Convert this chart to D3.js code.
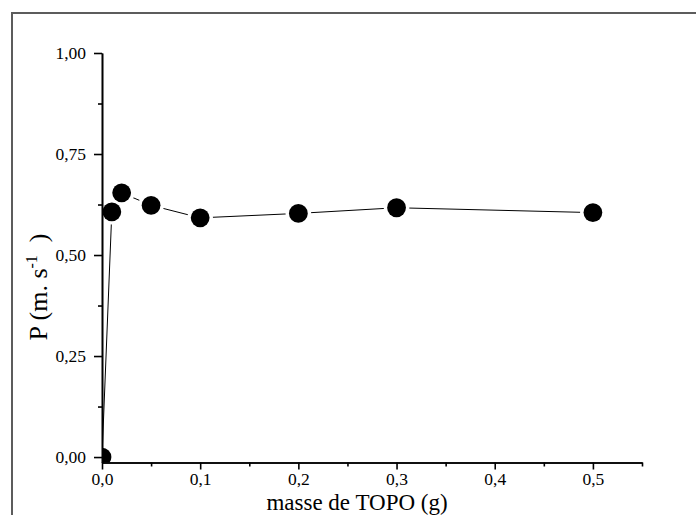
<!DOCTYPE html>
<html>
<head>
<meta charset="utf-8">
<script src="https://cdn.jsdelivr.net/npm/d3@7"></script>
<style>
  html, body { margin: 0; padding: 0; background: #fff; }
  svg { display: block; }
  text { font-family: "Liberation Serif", "Times New Roman", serif; fill: #000; }
</style>
</head>
<body>
<svg id="chart" width="696" height="515"></svg>
<script>
// ---- data ----
const masses = [0, 0.01, 0.02, 0.05, 0.1, 0.2, 0.3, 0.5];
const pValues = [0.0, 0.607, 0.654, 0.623, 0.592, 0.603, 0.617, 0.605];
const xTicks = [0, 0.1, 0.2, 0.3, 0.4, 0.5];
const xMinorTicks = [0.05, 0.15, 0.25, 0.35, 0.45, 0.55];
const yTicks = [0, 0.25, 0.5, 0.75, 1.0];
const yMinorTicks = [0.125, 0.375, 0.625, 0.875];
const xTitle = "masse de TOPO (g)";

// ---- layout ----
const svg = d3.select("#chart");
const pLeft = 102, pRight = 642, pTop = 53, pBottom = 462.5;

const x = d3.scaleLinear().domain([0, 0.55]).range([pLeft, pRight]);
const y = d3.scaleLinear().domain([-0.0135, 1.0]).range([pBottom, pTop]);

const fmtX = d => d3.format(".1f")(d).replace(".", ",");
const fmtY = d => d3.format(".2f")(d).replace(".", ",");

// outer frame
svg.append("rect")
  .attr("x", 12).attr("y", 13).attr("width", 720).attr("height", 540)
  .attr("fill", "none").attr("stroke", "#5c5c5c").attr("stroke-width", 2);

// clip
svg.append("defs").append("clipPath").attr("id", "plotclip")
  .append("rect").attr("x", pLeft).attr("y", pTop - 20)
  .attr("width", pRight - pLeft + 20).attr("height", pBottom - pTop + 20);

const plot = svg.append("g").attr("clip-path", "url(#plotclip)");
const pts = masses.map((m, i) => ({ m, p: pValues[i] }));

plot.append("path")
  .datum(pts)
  .attr("fill", "none").attr("stroke", "#000").attr("stroke-width", 1)
  .attr("d", d3.line().x(d => x(d.m)).y(d => y(d.p)));

// white halos to create gaps in the line around markers
plot.selectAll("circle.halo").data(pts).join("circle")
  .attr("class", "halo")
  .attr("cx", d => x(d.m)).attr("cy", d => y(d.p))
  .attr("r", 12.8).attr("fill", "#fff");

plot.selectAll("circle.pt").data(pts).join("circle")
  .attr("class", "pt")
  .attr("cx", d => x(d.m)).attr("cy", d => y(d.p))
  .attr("r", 9.4).attr("fill", "#000");

// ---- axes ----
function styleAxis(g) {
  g.attr("font-family", "'Liberation Serif', serif").attr("font-size", 17);
  g.selectAll(".domain").attr("stroke", "#000").attr("stroke-width", 1.6);
  g.selectAll(".tick line").attr("stroke", "#000").attr("stroke-width", 1.6);
  g.selectAll("text").style("font-family", "'Liberation Serif', serif")
    .style("font-size", "17.5px").attr("fill", "#000");
}

// x axis
const gx = svg.append("g").attr("transform", `translate(0,${pBottom})`)
  .call(d3.axisBottom(x).tickValues(xTicks).tickFormat(fmtX)
        .tickSize(7).tickSizeOuter(0).tickPadding(3));
styleAxis(gx);
const gxm = svg.append("g").attr("transform", `translate(0,${pBottom})`)
  .call(d3.axisBottom(x).tickValues(xMinorTicks).tickFormat("")
        .tickSize(4).tickSizeOuter(0));
styleAxis(gxm);

// y axis
const gy = svg.append("g").attr("transform", `translate(${pLeft},0)`)
  .call(d3.axisLeft(y).tickValues(yTicks).tickFormat(fmtY)
        .tickSize(8).tickSizeOuter(0).tickPadding(8));
styleAxis(gy);
const gym = svg.append("g").attr("transform", `translate(${pLeft},0)`)
  .call(d3.axisLeft(y).tickValues(yMinorTicks).tickFormat("")
        .tickSize(4).tickSizeOuter(0));
styleAxis(gym);

// ---- titles ----
svg.append("text")
  .attr("x", 357).attr("y", 509.5)
  .attr("text-anchor", "middle")
  .style("font-size", "23px")
  .text(xTitle);

const yt = svg.append("text")
  .attr("transform", "translate(47,287) rotate(-90)")
  .attr("text-anchor", "middle")
  .style("font-size", "26px");
yt.append("tspan").text("P (m. s");
yt.append("tspan").attr("dy", -10).style("font-size", "16px").text("-1");
yt.append("tspan").attr("dy", 10).text("\u00a0\u00a0)");
</script>
</body>
</html>
